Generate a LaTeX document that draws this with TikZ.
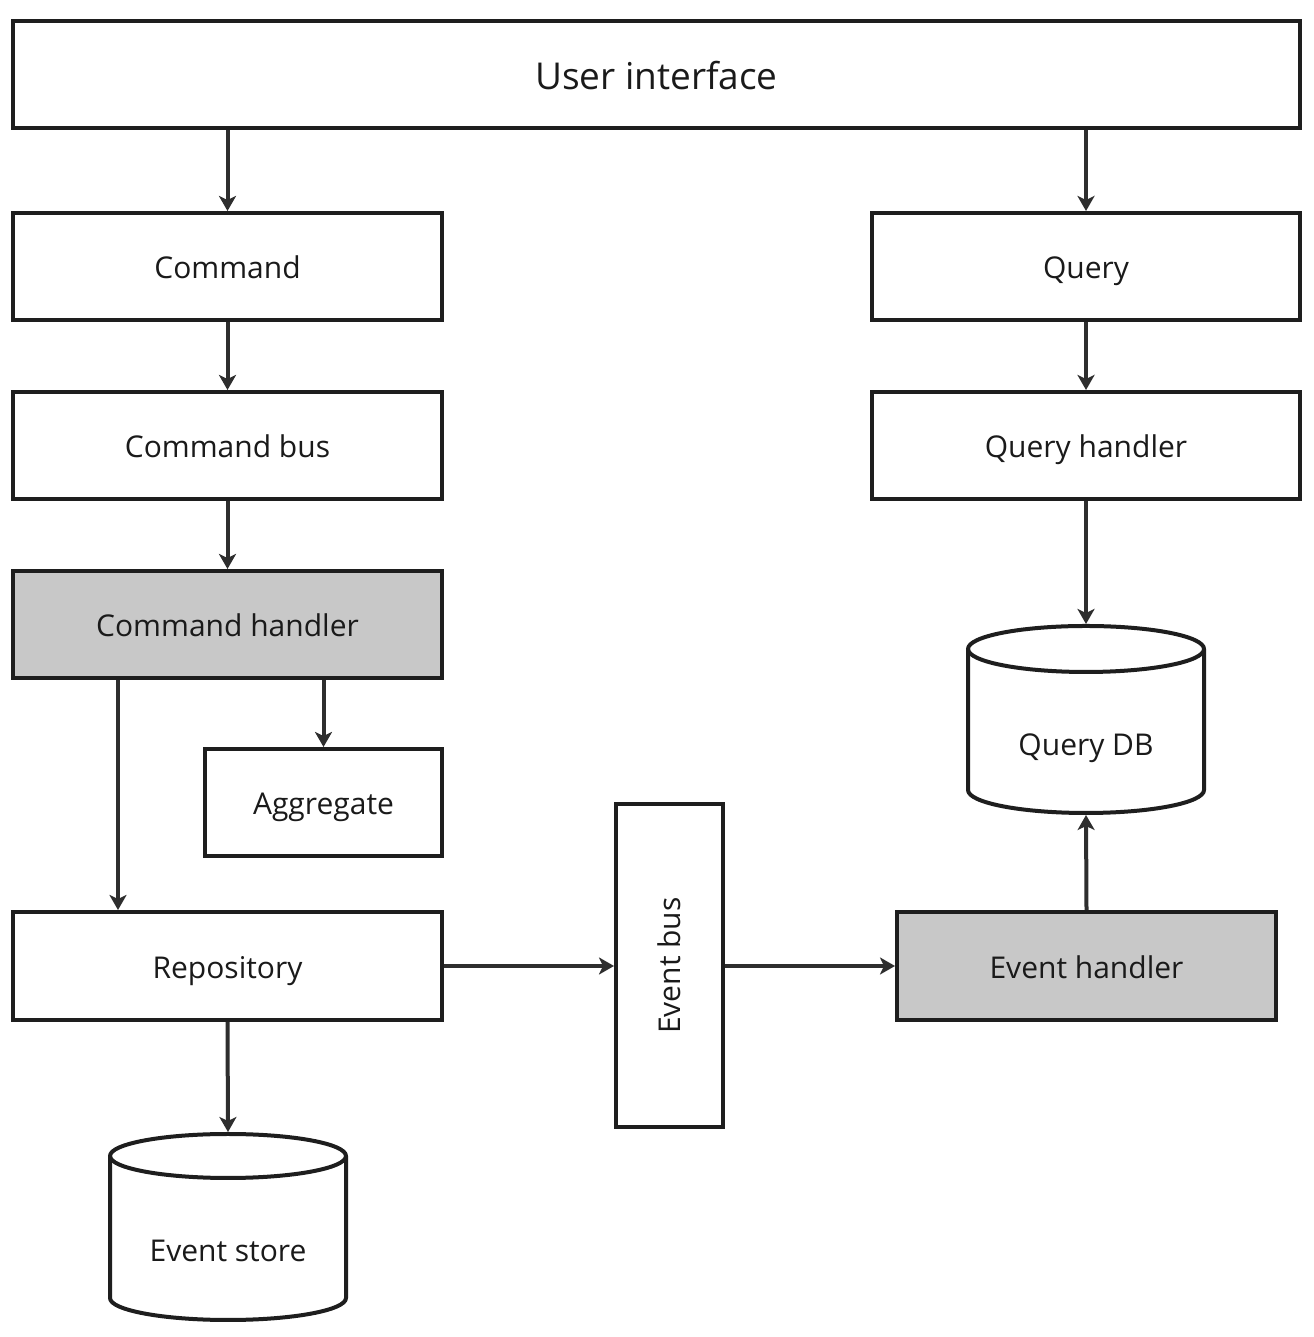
\documentclass[tikz,border=0pt]{standalone}
\usepackage{fontspec}
\setmainfont{Open Sans}
\usetikzlibrary{arrows.meta}
\definecolor{strokec}{HTML}{1E1E1E}
\definecolor{arrowc}{HTML}{2E2E2E}
\definecolor{grayfill}{HTML}{C8C8C8}
\definecolor{textc}{HTML}{1A1A1A}
\tikzset{
  box/.style={draw=strokec, line width=4pt, fill=white, rectangle, inner sep=0pt,
    minimum height=107pt, text=textc, font=\fontsize{30}{36}\selectfont,
    text height=30pt, text depth=5pt},
  shaded/.style={box, fill=grayfill},
  arr/.style={draw=arrowc, line width=4pt, -{Stealth[length=15pt, width=17pt, inset=4pt]}},
  dbshape/.style={rectangle, inner sep=0pt, outer sep=0pt, minimum width=236pt, minimum height=186pt},
  dbline/.style={draw=strokec, line width=4pt, fill=white, line join=round},
  lbl/.style={text=textc, font=\fontsize{30}{36}\selectfont, inner sep=0pt,
    text height=30pt, text depth=5pt}
}
\begin{document}
\begin{tikzpicture}[x=1pt, y=1pt]
\useasboundingbox (0,0) rectangle (1313,1337);
\fill[white] (0,0) rectangle (1313,1337);

\node[box, minimum width=1287pt, font=\fontsize{37}{44}\selectfont, text height=36pt, text depth=6pt] (ui) at (656.5,1262.5) {User interface};
\node[box, minimum width=429pt] (cmd) at (227.5,1070.5) {Command};
\node[box, minimum width=429pt] (cbus) at (227.5,891.5) {Command bus};
\node[shaded, minimum width=429pt] (ch) at (227.5,712.5) {Command handler};
\node[box, minimum width=237pt] (agg) at (323.5,534.5) {Aggregate};
\node[box, minimum width=429pt, minimum height=108pt] (repo) at (227.5,371) {Repository};
\node[box, minimum width=428pt] (q) at (1086,1070.5) {Query};
\node[box, minimum width=428pt] (qh) at (1086,891.5) {Query handler};
\node[box, minimum width=107pt, minimum height=323pt, text height=, text depth=] (eb) at (669.5,371.5) {};
\node[text=textc, font=\fontsize{30}{36}\selectfont, inner sep=0pt, rotate=90] (ebl) at (eb.center) {Event bus};
\node[shaded, minimum width=379pt, minimum height=108pt] (eh) at (1086.5,371) {Event handler};

% Event store cylinder
\node[dbshape] (es) at (228,110) {};
\draw[dbline] ([yshift=-22pt]es.north west) -- ([yshift=22pt]es.south west)
  arc[start angle=180, end angle=360, x radius=118, y radius=22]
  -- ([yshift=-22pt]es.north east)
  arc[start angle=0, end angle=180, x radius=118, y radius=22] -- cycle;
\draw[dbline, fill=none] ([yshift=-22pt]es.north west)
  arc[start angle=180, end angle=360, x radius=118, y radius=22];
\node[lbl] (esl) at (228,87.5) {Event store};

% Query DB cylinder
\node[dbshape, minimum height=187pt] (qdb) at (1086,617.5) {};
\draw[dbline] ([yshift=-23pt]qdb.north west) -- ([yshift=23pt]qdb.south west)
  arc[start angle=180, end angle=360, x radius=118, y radius=23]
  -- ([yshift=-23pt]qdb.north east)
  arc[start angle=0, end angle=180, x radius=118, y radius=23] -- cycle;
\draw[dbline, fill=none] ([yshift=-23pt]qdb.north west)
  arc[start angle=180, end angle=360, x radius=118, y radius=23];
\node[lbl] (qdbl) at (1086,593.5) {Query DB};

% connectors
\draw[arr] (ui.south -| cmd.north) -- (cmd.north);
\draw[arr] (ui.south -| q.north) -- (q.north);
\draw[arr] (cmd.south) -- (cbus.north);
\draw[arr] (cbus.south) -- (ch.north);
\draw[arr] (ch.south -| agg.north) -- (agg.north);
\draw[arr] ([xshift=107pt]ch.south west) -- ([xshift=107pt]repo.north west);
\draw[arr] (repo.south) -- ([yshift=2pt]es.north);
\draw[arr] (repo.east) -- (repo.east -| eb.west);
\draw[arr] (eb.east |- eh.west) -- (eh.west);
\draw[arr] (q.south) -- (qh.north);
\draw[arr] (qh.south) -- ([yshift=2pt]qdb.north);
\draw[arr] (eh.north) -- ([yshift=-2pt]qdb.south);
\end{tikzpicture}
\end{document}
